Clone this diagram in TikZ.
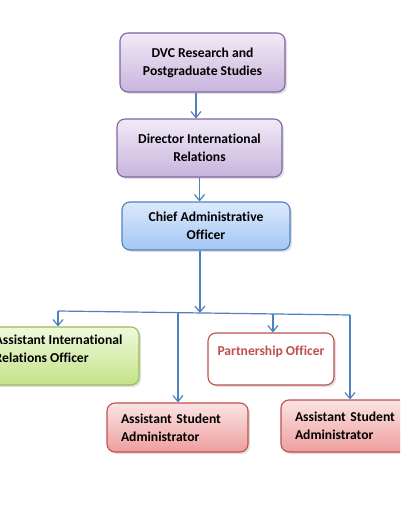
\documentclass[tikz,border=0pt]{standalone}
\usepackage{fontspec}
\setmainfont{Carlito}[Ligatures={NoCommon}]
\usetikzlibrary{arrows.meta,shadows,calc}
\definecolor{arrblue}{HTML}{4F81BD}
\definecolor{purpB}{HTML}{8064A2}
\definecolor{purpT}{HTML}{F1EAF7}
\definecolor{purpE}{HTML}{C8B4DD}
\definecolor{blueB}{HTML}{4F81BD}
\definecolor{blueT}{HTML}{DCEAFC}
\definecolor{blueE}{HTML}{A3C6F3}
\definecolor{greenB}{HTML}{9BBB59}
\definecolor{greenT}{HTML}{F0F9DC}
\definecolor{greenE}{HTML}{C3E288}
\definecolor{redB}{HTML}{C0504D}
\definecolor{redT}{HTML}{FBE4E4}
\definecolor{redE}{HTML}{EE9E9E}
\tikzset{
  box/.style={rounded corners=8pt, line width=1.1pt, font=\fontsize{13.6}{18}\selectfont\bfseries,
    align=center, inner sep=0pt,
    drop shadow={opacity=0.25, shadow xshift=2pt, shadow yshift=-2pt}},
  purplebox/.style={box, draw=purpB, top color=purpT, bottom color=purpE},
  bluebox/.style={box, draw=blueB, top color=blueT, bottom color=blueE},
  greenbox/.style={box, draw=greenB, top color=greenT, bottom color=greenE},
  redbox/.style={box, draw=redB, top color=redT, bottom color=redE},
  whitebox/.style={box, draw=redB, fill=white, text=redB},
  arr/.style={draw=arrblue, line width=1.2pt, -{Straight Barb[length=6pt,width=10pt,line width=1.2pt]}},
  bus/.style={draw=arrblue, line width=1.2pt}
}
\begin{document}
\begin{tikzpicture}[x=1pt,y=-1pt]
\useasboundingbox (0,0) rectangle (400,516);
\fill[white] (0,0) rectangle (400,516);
\clip (0,0) rectangle (400,516);

\node[purplebox, minimum width=165pt, minimum height=59pt] (b1) at (202.5,62.5)
  {DVC Research and\\Postgraduate Studies};
\node[purplebox, minimum width=165pt, minimum height=58pt] (b2) at (199.5,148)
  {Director International\\Relations};
\node[bluebox, minimum width=168pt, minimum height=48pt] (b3) at (206,226)
  {Chief Administrative\\Officer};
\node[greenbox, minimum width=161pt, minimum height=58pt, align=left, text depth=15pt] (g) at (58.5,356)
  {Assistant International\\Relations Officer};
\node[whitebox, minimum width=126pt, minimum height=52pt, text depth=17pt] (po) at (271,359)
  {Partnership Officer};
\node[redbox, minimum width=141pt, minimum height=49pt, text width=113pt, inner xsep=14pt, align=left] (r1) at (177.5,427.5)
  {Assistant Student\\Administrator};
\node[redbox, minimum width=141pt, minimum height=52pt, text width=113pt, inner xsep=14pt, align=left] (r2) at (351.5,426)
  {Assistant Student\\Administrator};

\coordinate (busL) at (58,311);
\coordinate (busR) at (350,315);
\coordinate (j) at ($(busL)!0.486!(busR)$);
\coordinate (p1) at ($(busL)!0.411!(busR)$);
\coordinate (p2) at ($(busL)!0.736!(busR)$);

\draw[arr] ([xshift=-6.5pt]b1.south) -- ([xshift=-3.5pt]b2.north);
\draw[arr] (b2.south) -- (b2.south |- b3.north);
\draw[arr] (b3.south -| j) -- (j);
\draw[bus] (busL) -- (busR);
\draw[arr] (busL) -- (busL |- g.north);
\draw[arr] (p1) -- (p1 |- r1.north);
\draw[arr] (p2) -- (p2 |- po.north);
\draw[arr] (busR) -- (busR |- r2.north);
\end{tikzpicture}
\end{document}
